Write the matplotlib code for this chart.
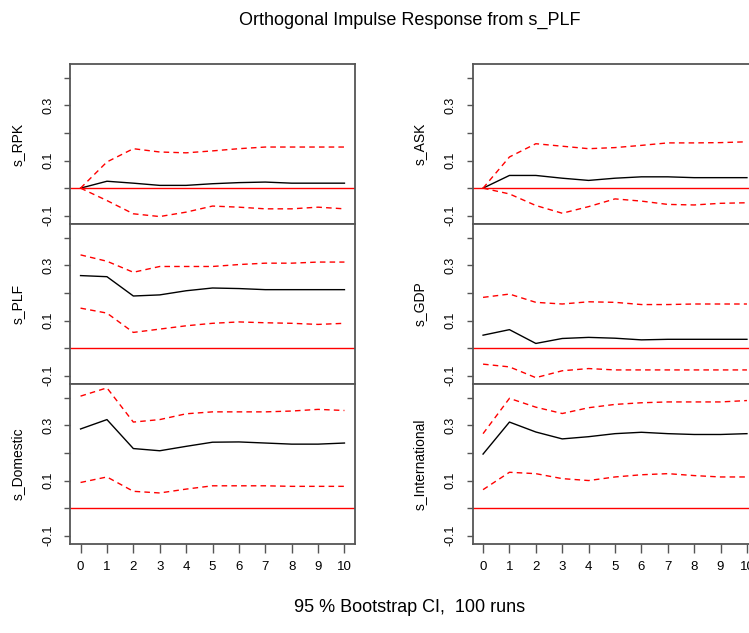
import numpy as np
import matplotlib
matplotlib.use('Agg')
import matplotlib.pyplot as plt

plt.rcParams['font.family'] = ['Liberation Sans', 'DejaVu Sans']

# горизонт отклика
steps = list(range(11))

# отклики и доверительные интервалы
names = ['s_RPK', 's_PLF', 's_Domestic', 's_ASK', 's_GDP', 's_International']

irf = {
    's_RPK': [0.0, 0.025, 0.018, 0.010, 0.010, 0.016, 0.020, 0.022, 0.018, 0.018, 0.018],
    's_PLF': [0.263, 0.259, 0.189, 0.193, 0.208, 0.218, 0.216, 0.212, 0.212, 0.212, 0.212],
    's_Domestic': [0.287, 0.321, 0.216, 0.208, 0.224, 0.239, 0.240, 0.236, 0.232, 0.232, 0.236],
    's_ASK': [0.0, 0.046, 0.046, 0.036, 0.028, 0.036, 0.041, 0.041, 0.038, 0.038, 0.038],
    's_GDP': [0.047, 0.067, 0.017, 0.035, 0.039, 0.036, 0.030, 0.032, 0.032, 0.032, 0.032],
    's_International': [0.196, 0.312, 0.276, 0.251, 0.259, 0.270, 0.275, 0.270, 0.267, 0.267, 0.270],
}
upper = {
    's_RPK': [0.0, 0.095, 0.143, 0.131, 0.128, 0.135, 0.143, 0.149, 0.149, 0.149, 0.149],
    's_PLF': [0.338, 0.315, 0.275, 0.296, 0.296, 0.296, 0.303, 0.308, 0.308, 0.312, 0.312],
    's_Domestic': [0.406, 0.436, 0.312, 0.321, 0.342, 0.349, 0.349, 0.349, 0.352, 0.358, 0.354],
    's_ASK': [0.0, 0.113, 0.161, 0.152, 0.143, 0.147, 0.155, 0.164, 0.164, 0.165, 0.168],
    's_GDP': [0.184, 0.196, 0.166, 0.160, 0.168, 0.166, 0.158, 0.158, 0.160, 0.160, 0.160],
    's_International': [0.270, 0.398, 0.366, 0.343, 0.364, 0.376, 0.382, 0.385, 0.385, 0.385, 0.390],
}
lower = {
    's_RPK': [0.0, -0.045, -0.093, -0.103, -0.087, -0.065, -0.069, -0.075, -0.075, -0.069, -0.075],
    's_PLF': [0.145, 0.127, 0.057, 0.069, 0.081, 0.090, 0.095, 0.092, 0.090, 0.086, 0.090],
    's_Domestic': [0.093, 0.113, 0.061, 0.055, 0.069, 0.081, 0.081, 0.081, 0.079, 0.079, 0.079],
    's_ASK': [0.0, -0.021, -0.063, -0.091, -0.067, -0.039, -0.047, -0.059, -0.061, -0.055, -0.053],
    's_GDP': [-0.058, -0.068, -0.107, -0.082, -0.074, -0.079, -0.079, -0.079, -0.079, -0.079, -0.079],
    's_International': [0.067, 0.130, 0.125, 0.107, 0.100, 0.113, 0.121, 0.125, 0.118, 0.113, 0.113],
}

yticks = [-0.1, 0.0, 0.1, 0.2, 0.3, 0.4]
ytick_labels = ['-0.1', '', '0.1', '', '0.3', '']

fig = plt.figure(figsize=(7.49, 6.33), dpi=100)

W, H = 749, 633
col_left = [70, 472.5]
rows_bottom = [224, 384, 544]
panel_w, panel_h = 285, 160

frame = '#555555'

for i, name in enumerate(names):
    col = i // 3
    row = i % 3
    ax = fig.add_axes([col_left[col] / W, 1 - rows_bottom[row] / H,
                       panel_w / W, panel_h / H])
    ax.plot(steps, irf[name], color='black', lw=1)
    ax.plot(steps, upper[name], color='red', lw=1, ls=(0, (4, 3)))
    ax.plot(steps, lower[name], color='red', lw=1, ls=(0, (4, 3)))
    ax.axhline(0, color='red', lw=1)
    ax.set_xlim(-0.4, 10.4)
    ax.set_ylim(-0.13, 0.45)
    for s in ax.spines.values():
        s.set_color(frame)
        s.set_linewidth(1.3)
    ax.set_yticks(yticks)
    ax.set_yticklabels(ytick_labels, rotation=90, va='center', fontsize=9)
    ax.tick_params(axis='y', direction='out', length=4.5, width=1, color=frame, pad=7)
    if row == 2:
        ax.set_xticks(steps)
        ax.set_xticklabels([str(s) for s in steps], fontsize=9.5)
        ax.tick_params(axis='x', direction='out', length=6.5, width=1, color=frame, pad=6)
    else:
        ax.set_xticks([])
    ax.set_ylabel(name, fontsize=10)
    ax.yaxis.set_label_coords(-0.16, 0.5)

fig.text(410 / W, 1 - 20 / H, 'Orthogonal Impulse Response from s_PLF',
         ha='center', va='center', fontsize=13)
fig.text(410 / W, 1 - 607 / H, '95 % Bootstrap CI,  100 runs',
         ha='center', va='center', fontsize=13)

plt.savefig('out.png', dpi=100)
